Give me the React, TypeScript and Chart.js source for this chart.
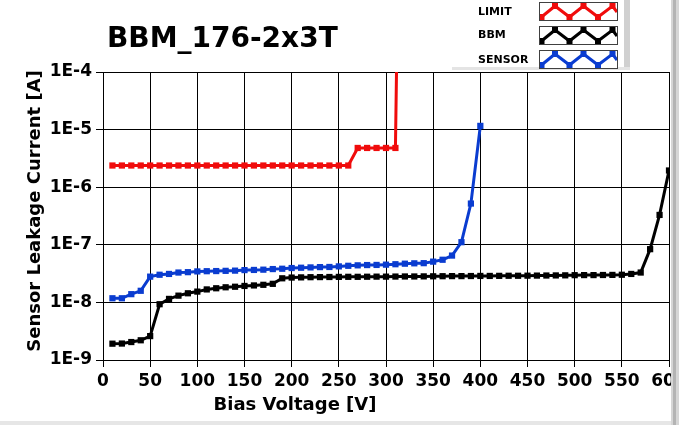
import React, { useEffect, useRef } from "react";
import { Chart, registerables } from "chart.js";

Chart.register(...registerables);

const TITLE = "BBM_176-2x3T";
const X_TITLE = "Bias Voltage [V]";
const Y_TITLE = "Sensor Leakage Current [A]";
const SERIES_NAMES = ["LIMIT", "BBM", "SENSOR"];
const SERIES_COLORS = ["#f00c0c", "#000000", "#0a3cd0"];

const X_TICKS = [0, 50, 100, 150, 200, 250, 300, 350, 400, 450, 500, 550, 600];
const Y_TICKS = [1e-9, 1e-8, 1e-7, 1e-6, 1e-5, 1e-4];
const Y_TICK_LABELS = ["1E-9", "1E-8", "1E-7", "1E-6", "1E-5", "1E-4"];

const LIMIT_V = [10, 20, 30, 40, 50, 60, 70, 80, 90, 100, 110, 120, 130, 140, 150, 160, 170, 180, 190, 200, 210, 220, 230, 240, 250, 260, 270, 280, 290, 300, 310, 312];
const LIMIT_I = [
  2.38e-6, 2.38e-6, 2.38e-6, 2.38e-6, 2.38e-6, 2.38e-6, 2.38e-6, 2.38e-6, 2.38e-6, 2.38e-6,
  2.38e-6, 2.38e-6, 2.38e-6, 2.38e-6, 2.38e-6, 2.38e-6, 2.38e-6, 2.38e-6, 2.38e-6, 2.38e-6,
  2.38e-6, 2.38e-6, 2.38e-6, 2.38e-6, 2.38e-6, 2.38e-6,
  4.8e-6, 4.8e-6, 4.8e-6, 4.8e-6, 4.8e-6, 1e-3,
];

const BBM_V = [10, 20, 30, 40, 50, 60, 70, 80, 90, 100, 110, 120, 130, 140, 150, 160, 170, 180, 190, 200, 210, 220, 230, 240, 250, 260, 270, 280, 290, 300, 310, 320, 330, 340, 350, 360, 370, 380, 390, 400, 410, 420, 430, 440, 450, 460, 470, 480, 490, 500, 510, 520, 530, 540, 550, 560, 570, 580, 590, 600];
const BBM_I = [
  1.92e-9, 1.93e-9, 2.05e-9, 2.2e-9, 2.6e-9, 9.3e-9, 1.15e-8, 1.31e-8, 1.44e-8, 1.54e-8,
  1.68e-8, 1.76e-8, 1.83e-8, 1.87e-8, 1.93e-8, 1.97e-8, 2.02e-8, 2.1e-8, 2.62e-8, 2.7e-8,
  2.72e-8, 2.74e-8, 2.75e-8, 2.76e-8, 2.77e-8, 2.78e-8, 2.78e-8, 2.79e-8, 2.8e-8, 2.8e-8,
  2.81e-8, 2.82e-8, 2.82e-8, 2.83e-8, 2.84e-8, 2.85e-8, 2.86e-8, 2.86e-8, 2.87e-8, 2.88e-8,
  2.88e-8, 2.89e-8, 2.9e-8, 2.9e-8, 2.91e-8, 2.92e-8, 2.93e-8, 2.94e-8, 2.95e-8, 2.97e-8,
  2.98e-8, 2.98e-8, 2.99e-8, 3.0e-8, 3.02e-8, 3.12e-8, 3.3e-8, 8.4e-8, 3.3e-7, 1.95e-6,
];

const SENSOR_V = [10, 20, 30, 40, 50, 60, 70, 80, 90, 100, 110, 120, 130, 140, 150, 160, 170, 180, 190, 200, 210, 220, 230, 240, 250, 260, 270, 280, 290, 300, 310, 320, 330, 340, 350, 360, 370, 380, 390, 400];
const SENSOR_I = [
  1.18e-8, 1.18e-8, 1.39e-8, 1.59e-8, 2.8e-8, 3.02e-8, 3.12e-8, 3.3e-8, 3.35e-8, 3.45e-8,
  3.48e-8, 3.5e-8, 3.53e-8, 3.56e-8, 3.64e-8, 3.66e-8, 3.7e-8, 3.79e-8, 3.84e-8, 3.95e-8,
  4.0e-8, 4.05e-8, 4.1e-8, 4.12e-8, 4.22e-8, 4.32e-8, 4.4e-8, 4.45e-8, 4.47e-8, 4.52e-8,
  4.6e-8, 4.7e-8, 4.77e-8, 4.8e-8, 5.1e-8, 5.5e-8, 6.5e-8, 1.11e-7, 5.2e-7, 1.16e-5,
];

const FONT = "'DejaVu Sans', Verdana, sans-serif";

function pairs(xs: number[], ys: number[]) {
  return xs.map((x, i) => ({ x, y: ys[i] }));
}

const decorPlugin = {
  id: "decor",
  afterDraw(chart: any) {
    const ctx = chart.ctx as CanvasRenderingContext2D;
    ctx.save();
    // frame on right / bottom
    ctx.fillStyle = "#d6d6d6";
    ctx.fillRect(671, 0, 8, 425);
    ctx.fillStyle = "#b4b4b4";
    ctx.fillRect(673, 0, 3, 425);
    ctx.fillStyle = "#e6e6e6";
    ctx.fillRect(0, 421, 671, 4);

    // title
    ctx.fillStyle = "#000";
    ctx.font = `bold 28px ${FONT}`;
    ctx.textAlign = "left";
    ctx.textBaseline = "alphabetic";
    ctx.fillText(TITLE, 107, 47);

    // axis titles
    ctx.font = `bold 18px ${FONT}`;
    ctx.textAlign = "center";
    ctx.fillText(X_TITLE, 295, 410);
    ctx.save();
    ctx.translate(40, 211);
    ctx.rotate(-Math.PI / 2);
    ctx.fillText(Y_TITLE, 0, 0);
    ctx.restore();

    // legend panel shading
    ctx.fillStyle = "#d0d0d0";
    ctx.fillRect(624, 0, 6, 70);
    ctx.fillStyle = "#e4e4e4";
    ctx.fillRect(452, 67, 178, 3);

    // legend items
    const boxX = 539, boxW = 79, boxH = 19;
    const boxYs = [2, 26, 50];
    const labelYs = [12, 35, 60];
    ctx.font = `bold 11px ${FONT}`;
    ctx.textAlign = "left";
    ctx.textBaseline = "middle";
    SERIES_NAMES.forEach((name, i) => {
      ctx.fillStyle = "#000";
      ctx.fillText(name, 478, labelYs[i]);
      const by = boxYs[i];
      ctx.fillStyle = "#ffffff";
      ctx.fillRect(boxX, by, boxW, boxH);
      ctx.strokeStyle = "#404040";
      ctx.lineWidth = 1;
      ctx.strokeRect(boxX + 0.5, by + 0.5, boxW - 1, boxH - 1);
      const xs = [boxX + 2.5, boxX + 16, boxX + 30.5, boxX + 44.5, boxX + 59, boxX + 73.5];
      const ys = [by + 15, by + 4, by + 15, by + 4, by + 15, by + 4];
      ctx.save();
      ctx.beginPath();
      ctx.rect(boxX + 1, by + 1, boxW - 2, boxH - 2);
      ctx.clip();
      ctx.strokeStyle = SERIES_COLORS[i];
      ctx.fillStyle = SERIES_COLORS[i];
      ctx.lineWidth = 3;
      ctx.lineJoin = "miter";
      ctx.beginPath();
      xs.forEach((x, k) => (k === 0 ? ctx.moveTo(x, ys[k]) : ctx.lineTo(x, ys[k])));
      ctx.lineTo(boxX + 78, by + 10);
      ctx.stroke();
      xs.forEach((x, k) => ctx.fillRect(x - 3, ys[k] - 3, 6, 6));
      ctx.restore();
    });
    ctx.restore();
  },
};

export default function App() {
  const ref = useRef<HTMLCanvasElement | null>(null);
  useEffect(() => {
    document.body.style.margin = "0";
    const canvas = ref.current;
    if (!canvas) return;
    const ds = (label: string, color: string, xs: number[], ys: number[]) => ({
      label,
      data: pairs(xs, ys),
      borderColor: color,
      backgroundColor: color,
      pointBackgroundColor: color,
      pointBorderWidth: 0,
      pointStyle: "rect",
      pointRadius: 4.4,
      borderWidth: 3,
      tension: 0,
      fill: false,
    });
    const chart = new Chart(canvas, {
      type: "line",
      data: {
        datasets: [
          ds(SERIES_NAMES[0], SERIES_COLORS[0], LIMIT_V, LIMIT_I),
          ds(SERIES_NAMES[1], SERIES_COLORS[1], BBM_V, BBM_I),
          ds(SERIES_NAMES[2], SERIES_COLORS[2], SENSOR_V, SENSOR_I),
        ] as any,
      },
      options: {
        animation: false,
        responsive: false,
        devicePixelRatio: 1,
        layout: { padding: { left: 0, top: 72, right: 10, bottom: 0 } },
        plugins: {
          legend: { display: false },
          title: { display: false },
          tooltip: { enabled: false },
        },
        scales: {
          x: {
            type: "linear",
            min: 0,
            max: 600,
            afterBuildTicks: (s: any) => {
              s.ticks = X_TICKS.map((v) => ({ value: v }));
            },
            afterFit: (s: any) => {
              s.height = 65;
              s.paddingLeft = 0;
              s.paddingRight = 0;
            },
            ticks: {
              autoSkip: false,
              maxRotation: 0,
              padding: 4,
              color: "#000",
              font: { family: FONT, size: 17, weight: "bold" },
              callback: (v: any) => String(v),
            },
            grid: { color: "#000", lineWidth: 1, tickLength: 7, drawTicks: true },
            border: { color: "#000", width: 1 },
          },
          y: {
            type: "logarithmic",
            min: 1e-9,
            max: 1e-4,
            afterBuildTicks: (s: any) => {
              s.ticks = Y_TICKS.map((v) => ({ value: v }));
            },
            afterFit: (s: any) => {
              s.width = 103;
              s.paddingTop = 0;
              s.paddingBottom = 0;
            },
            ticks: {
              autoSkip: false,
              padding: 4,
              color: "#000",
              font: { family: FONT, size: 17, weight: "bold" },
              callback: (v: any) => {
                const idx = Y_TICKS.findIndex((t) => Math.abs(Math.log10(t) - Math.log10(Number(v))) < 1e-6);
                return idx >= 0 ? Y_TICK_LABELS[idx] : "";
              },
            },
            grid: { color: "#000", lineWidth: 1, tickLength: 7, drawTicks: true },
            border: { color: "#000", width: 1 },
          },
        },
      } as any,
      plugins: [decorPlugin],
    });
    return () => chart.destroy();
  }, []);
  return <canvas ref={ref} width={679} height={425} style={{ display: "block" }} />;
}
